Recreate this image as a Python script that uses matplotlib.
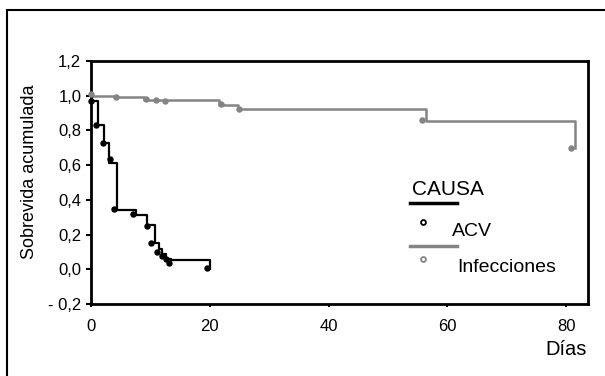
import matplotlib.pyplot as plt
from matplotlib.lines import Line2D
from matplotlib.patches import Rectangle

plt.rcParams['font.family'] = ['Liberation Sans', 'DejaVu Sans']

# ACV (black) - Kaplan-Meier steps
acv_dias = [0, 0.2, 1.2, 2.2, 3.1, 4.4, 7.6, 9.4, 10.8, 11.4, 12.0, 12.7, 13.4, 20.0]
acv_surv = [1.0, 0.97, 0.832, 0.726, 0.615, 0.340, 0.313, 0.254, 0.150, 0.119, 0.090, 0.062, 0.052, 0.0]
acv_cens_x = [0, 0.8, 2.1, 3.2, 3.8, 7.0, 9.4, 10.1, 11.1, 12.0, 12.6, 13.2, 19.5]
acv_cens_y = [0.97, 0.832, 0.73, 0.634, 0.346, 0.317, 0.25, 0.15, 0.102, 0.077, 0.062, 0.038, 0.01]

# Infecciones (gray)
inf_dias = [0, 3.9, 9.0, 21.6, 24.7, 56.5, 81.5]
inf_surv = [1.0, 0.99, 0.975, 0.945, 0.926, 0.855, 0.70]
inf_cens_x = [0, 4.2, 9.2, 10.9, 12.4, 21.9, 25.0, 55.8, 80.9]
inf_cens_y = [1.01, 0.995, 0.98, 0.975, 0.972, 0.955, 0.926, 0.86, 0.70]

y_ticks = [-0.2, 0.0, 0.2, 0.4, 0.6, 0.8, 1.0, 1.2]
y_labels = ['- 0,2', '0,0', '0,2', '0,4', '0,6', '0,8', '1,0', '1,2']
x_ticks = [0, 20, 40, 60, 80]

GRIS = '#848484'
W, H = 605, 376

fig = plt.figure(figsize=(W / 100, H / 100), dpi=100)
ax = fig.add_axes([91 / W, 1 - 304 / H, (588 - 91) / W, (304 - 61) / H])

ax.step(inf_dias, inf_surv, where='post', color=GRIS, lw=1.8, zorder=3)
ax.plot(inf_cens_x, inf_cens_y, 'o', color=GRIS, ms=3.6, clip_on=False, zorder=4)
ax.step(acv_dias, acv_surv, where='post', color='black', lw=1.6, zorder=3)
ax.plot(acv_cens_x, acv_cens_y, 'o', color='black', ms=3.6, clip_on=False, zorder=4)

ax.set_xlim(0, 83.7)
ax.set_ylim(-0.2, 1.2)
ax.set_xticks(x_ticks)
ax.set_yticks(y_ticks)
ax.set_yticklabels(y_labels)
ax.tick_params(axis='y', length=3.5, width=1.5, pad=3.5, labelsize=12)
ax.tick_params(axis='x', length=2.5, width=1.5, pad=8, labelsize=12)
for s in ax.spines.values():
    s.set_linewidth(2)

fig.text(30 / W, 1 - 172 / H, 'Sobrevida acumulada', rotation=90,
         ha='center', va='center', fontsize=13)
fig.text(587 / W, 1 - 355 / H, 'Días', ha='right', va='baseline', fontsize=14.5)

# leyenda manual
def fx(px):
    return px / W

def fy(py):
    return 1 - py / H

fig.text(fx(412), fy(195), 'CAUSA', ha='left', va='baseline', fontsize=15)
fig.add_artist(Line2D([fx(410), fx(457)], [fy(203), fy(203)], color='black', lw=2.5))
fig.add_artist(Line2D([fx(423)], [fy(222)], marker='o', ms=3.5, mfc='white',
                      mec='black', mew=1.3, ls='none'))
fig.text(fx(452), fy(236), 'ACV', ha='left', va='baseline', fontsize=14)
fig.add_artist(Line2D([fx(410), fx(457)], [fy(246), fy(246)], color=GRIS, lw=2.5))
fig.add_artist(Line2D([fx(423)], [fy(259)], marker='o', ms=3.5, mfc='white',
                      mec=GRIS, mew=1.3, ls='none'))
fig.text(fx(457), fy(272), 'Infecciones', ha='left', va='baseline', fontsize=14)

# marco exterior
fig.add_artist(Rectangle((7 / W, -0.5), 2, fy(10) + 0.5, transform=fig.transFigure,
                         fill=False, lw=1.5, edgecolor='black'))

fig.savefig('out.png', dpi=100)
